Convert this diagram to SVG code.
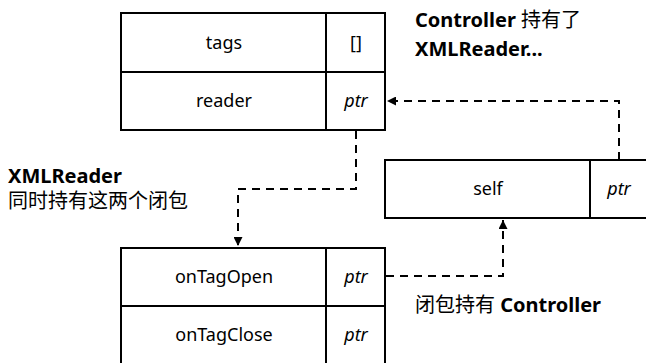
<svg xmlns="http://www.w3.org/2000/svg" width="646" height="363" viewBox="0 0 646 363">
<defs>
<marker id="ah" viewBox="0 0 10 10" refX="10" refY="5" markerWidth="9" markerHeight="9" markerUnits="userSpaceOnUse" orient="auto">
<path d="M0,0 L10,5 L0,10 z" fill="#000"/>
</marker>
</defs>
<style>
.box{fill:#fff;stroke:#000;stroke-width:2}
.ln{stroke:#000;stroke-width:2}
.t{font-family:"Noto Sans","Noto Sans CJK SC",sans-serif;font-size:18px;fill:#000}
.a{font-size:20px}
.c{text-anchor:middle}
.i{font-style:italic}
.b{font-weight:bold}
.conn{fill:none;stroke:#000;stroke-width:2;stroke-dasharray:8,6}
</style>
<rect width="646" height="363" fill="#fff"/>
<g id="controller">
<rect class="box" x="121" y="13" width="264" height="117"/>
<line class="ln" x1="121" y1="72" x2="385" y2="72"/>
<line class="ln" x1="326" y1="13" x2="326" y2="130"/>
<text class="t c" x="224" y="49">tags</text>
<text class="t c" x="356" y="49">[]</text>
<text class="t c" x="224" y="107">reader</text>
<text class="t c i" x="356" y="107">ptr</text>
</g>
<g id="self">
<rect class="box" x="385" y="160" width="265" height="58"/>
<line class="ln" x1="590" y1="160" x2="590" y2="218"/>
<text class="t c" x="488" y="195">self</text>
<text class="t c i" x="619" y="195">ptr</text>
</g>
<g id="xmlreader">
<rect class="box" x="121" y="248" width="264" height="120"/>
<line class="ln" x1="121" y1="306" x2="385" y2="306"/>
<line class="ln" x1="326" y1="248" x2="326" y2="368"/>
<text class="t c" x="224" y="283">onTagOpen</text>
<text class="t c i" x="356" y="283">ptr</text>
<text class="t c" x="224" y="341">onTagClose</text>
<text class="t c i" x="356" y="341">ptr</text>
</g>
<g id="connectors">
<path class="conn" d="M619,160 V101 H387" marker-end="url(#ah)"/>
<path class="conn" d="M356,131 V189 H238 V246" marker-end="url(#ah)"/>
<path class="conn" d="M386,276 H503 V220" marker-end="url(#ah)"/>
</g>
<g id="labels">
<text class="t a" x="415" y="27"><tspan class="b">Controller</tspan> 持有了</text>
<text class="t a b" x="415" y="56">XMLReader...</text>
<text class="t a b" x="8" y="183">XMLReader</text>
<text class="t a" x="8" y="208">同时持有这两个闭包</text>
<text class="t a" x="415" y="312">闭包持有 <tspan class="b">Controller</tspan></text>
</g>
</svg>
